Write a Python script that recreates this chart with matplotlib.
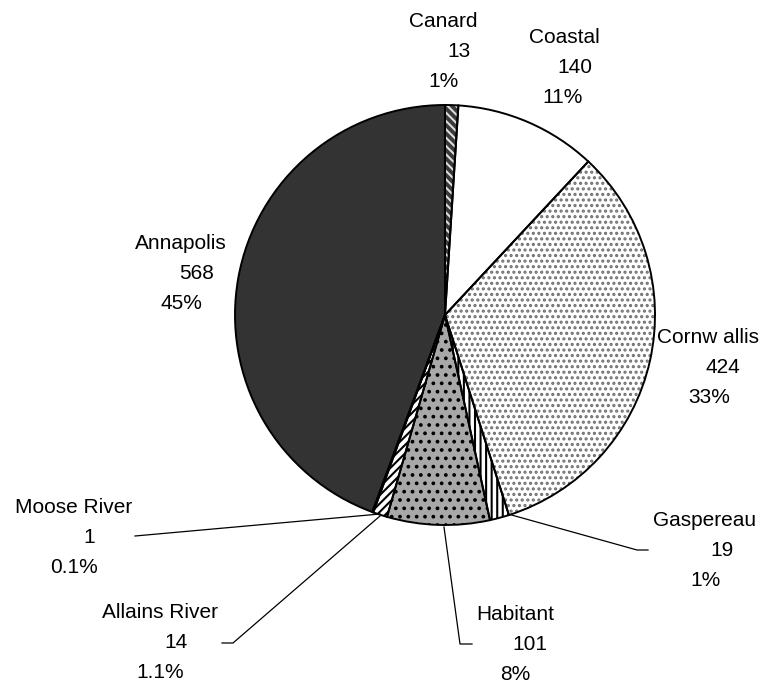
import matplotlib
matplotlib.use("Agg")
from matplotlib import pyplot as plt
from matplotlib.patches import Wedge

# catchment areas, clockwise from the top
areas = ["Canard", "Coastal", "Cornw allis", "Gaspereau", "Habitant",
         "Allains River", "Moose River", "Annapolis"]
counts = [13, 140, 424, 19, 101, 14, 1, 568]
pct_labels = ["1%", "11%", "33%", "1%", "8%", "1.1%", "0.1%", "45%"]

# fill / hatch styles per slice: (face, hatch, hatch colour)
styles = [
    ("#3a3a3a", "\\\\\\\\", "#dddddd"),
    ("white", None, None),
    ("white", "...", "#707070"),
    ("white", "|||", "black"),
    ("#a8a8a8", "..", "black"),
    ("white", "////", "black"),
    ("white", None, None),
    ("#333333", None, None),
]

# label anchors: (x centre of name, x of value, x of pct, baseline of name)
label_pos = [
    (443, 459, 444, 27),
    (564, 575, 563, 43),
    (708, 723, 709, 343),
    (705, 722, 706, 526),
    (515, 530, 515, 620),
    (160, 176, 160, 618),
    (74, 89, 74, 513),
    (181, 197, 181, 249),
]

# leader lines for the small slices
leaders = {
    "Moose River": [(135, 536), (380, 514)],
    "Allains River": [(222, 643), (233, 643), (380, 516)],
    "Habitant": [(472, 644), (460, 644), (444, 527)],
    "Gaspereau": [(648, 550), (637, 550), (508, 514)],
}

W, H = 773, 685
plt.rcParams["font.family"] = ["Liberation Sans", "DejaVu Sans"]
plt.rcParams["hatch.linewidth"] = 1.5

fig = plt.figure(figsize=(W / 100, H / 100), dpi=100)
ax = fig.add_axes([0, 0, 1, 1])
ax.set_xlim(0, W)
ax.set_ylim(0, H)
ax.set_aspect("equal")
ax.axis("off")

cx, cy, r = 445, H - 315, 210

wedges, _ = ax.pie(counts, startangle=90, counterclock=False,
                   center=(cx, cy), radius=r, frame=True,
                   colors=[s[0] for s in styles],
                   wedgeprops=dict(linewidth=0))
ax.set_xlim(0, W)
ax.set_ylim(0, H)
ax.axis("off")

for w, (face, hatch, hcol) in zip(wedges, styles):
    if hatch:
        ax.add_patch(Wedge((cx, cy), r, w.theta1, w.theta2, facecolor="none",
                           edgecolor=hcol, linewidth=0, hatch=hatch, zorder=2))
    ax.add_patch(Wedge((cx, cy), r, w.theta1, w.theta2, facecolor="none",
                       edgecolor="black", linewidth=1.4, zorder=3))

for name, (xn, xv, xp, base) in zip(areas, label_pos):
    i = areas.index(name)
    ax.text(xn, H - base, name, ha="center", va="baseline", fontsize=15)
    ax.text(xv, H - base - 30, str(counts[i]), ha="center", va="baseline", fontsize=15)
    ax.text(xp, H - base - 60, pct_labels[i], ha="center", va="baseline", fontsize=15)

for pts in leaders.values():
    xs = [p[0] for p in pts]
    ys = [H - p[1] for p in pts]
    ax.plot(xs, ys, color="black", linewidth=0.9, zorder=4)

fig.savefig("out.png", dpi=100)
